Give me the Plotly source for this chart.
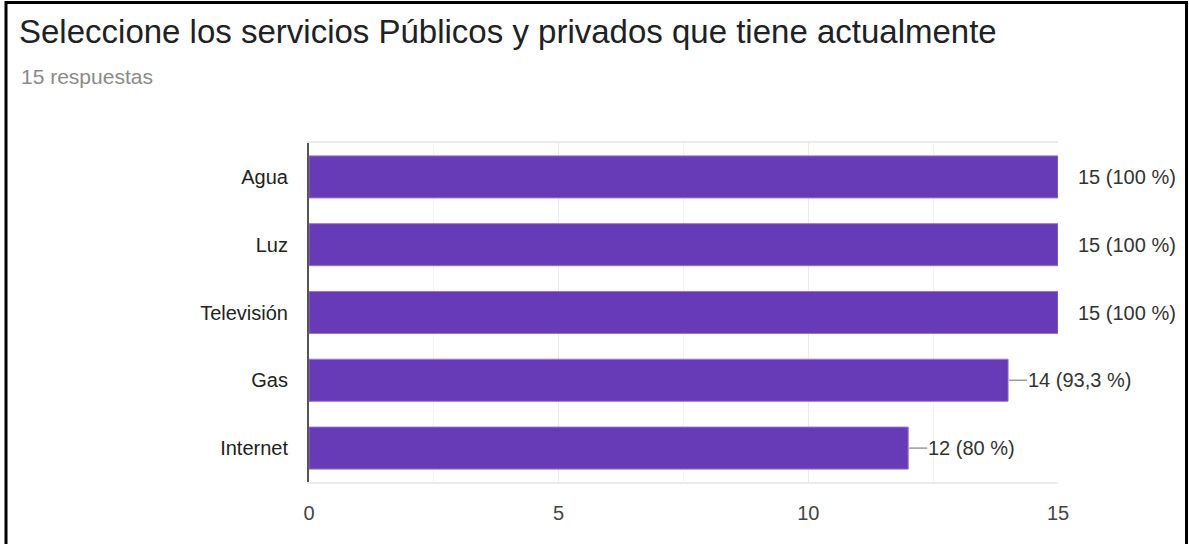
import plotly.graph_objects as go

# Survey: public and private services each household currently has
servicios = ["Agua", "Luz", "Televisión", "Gas", "Internet"]
respuestas = [15, 15, 15, 14, 12]
total_respuestas = 15
x_ticks = [0, 5, 10, 15]

PURPLE = "#673AB7"
FONT = "Arial, 'Liberation Sans', sans-serif"


def etiqueta(v):
    pct = round(v / total_respuestas * 100, 1)
    pct_txt = (f"{pct:.1f}".rstrip("0").rstrip(".")).replace(".", ",")
    return f"{v} ({pct_txt} %)"


fig = go.Figure(
    go.Bar(
        x=respuestas,
        y=servicios,
        orientation="h",
        marker=dict(color=PURPLE, line=dict(color="#9575cd", width=1)),
        width=0.62,
        hoverinfo="skip",
    )
)

# value labels with short grey leader lines
for s, v in zip(servicios, respuestas):
    fig.add_annotation(
        x=v, y=s, xref="x", yref="y",
        text=etiqueta(v), showarrow=False,
        xanchor="left", yanchor="middle", xshift=18,
        font=dict(family=FONT, size=20, color="#333333"),
    )
    largo = 19 if v < max(respuestas) else 4
    fig.add_shape(
        type="line", xref="x", yref="y",
        xsizemode="pixel", xanchor=v, x0=1, x1=largo,
        y0=s, y1=s,
        line=dict(color="#999999", width=1.5),
    )

# outer frame (left, top, right)
W, H = 1189, 544
L, R, T, B = 309, 131, 143, 62
pw, ph = W - L - R, H - T - B


def px(x):
    return (x - L) / pw


def py(y):
    return (H - B - y) / ph


fig.add_shape(
    type="path", xref="paper", yref="paper",
    path=f"M {px(6)} {py(H + 5)} L {px(6)} {py(2.5)} L {px(1186.5)} {py(2.5)} L {px(1186.5)} {py(H + 5)}",
    line=dict(color="#000000", width=3),
)

fig.update_layout(
    width=W, height=H,
    margin=dict(l=L, r=R, t=T, b=B),
    paper_bgcolor="white", plot_bgcolor="white",
    showlegend=False,
    font=dict(family=FONT),
    title=dict(
        text="Seleccione los servicios Públicos y privados que tiene actualmente",
        x=19 / W, xanchor="left", xref="container",
        y=1 - 31 / H, yanchor="middle", yref="container",
        font=dict(family=FONT, size=33, color="#202124"),
    ),
    annotations=list(fig.layout.annotations) + [
        dict(
            text="15 respuestas", showarrow=False,
            xref="paper", yref="paper", x=px(19), y=py(76),
            xanchor="left", yanchor="middle",
            font=dict(family=FONT, size=21, color="#8a8a8a"),
        )
    ],
    bargap=0.38,
)

fig.update_xaxes(
    range=[0, 15],
    tickvals=x_ticks,
    ticktext=[str(t) for t in x_ticks],
    showgrid=True, gridcolor="#ebebeb", gridwidth=1,
    minor=dict(dtick=2.5, showgrid=True, gridcolor="#f3f3f3", gridwidth=1),
    showline=True, linecolor="#ebebeb", linewidth=2, mirror=True,
    zeroline=False, ticks="",
    tickfont=dict(family=FONT, size=20, color="#444444"),
    ticklabelstandoff=12,
    fixedrange=True,
)
fig.update_yaxes(
    categoryorder="array", categoryarray=servicios,
    autorange="reversed",
    showgrid=False, zeroline=False,
    showline=True, linecolor="#555555", linewidth=2,
    ticks="", ticklabelstandoff=15,
    tickfont=dict(family=FONT, size=20, color="#222222"),
    fixedrange=True,
)

fig.write_html("out.html")
